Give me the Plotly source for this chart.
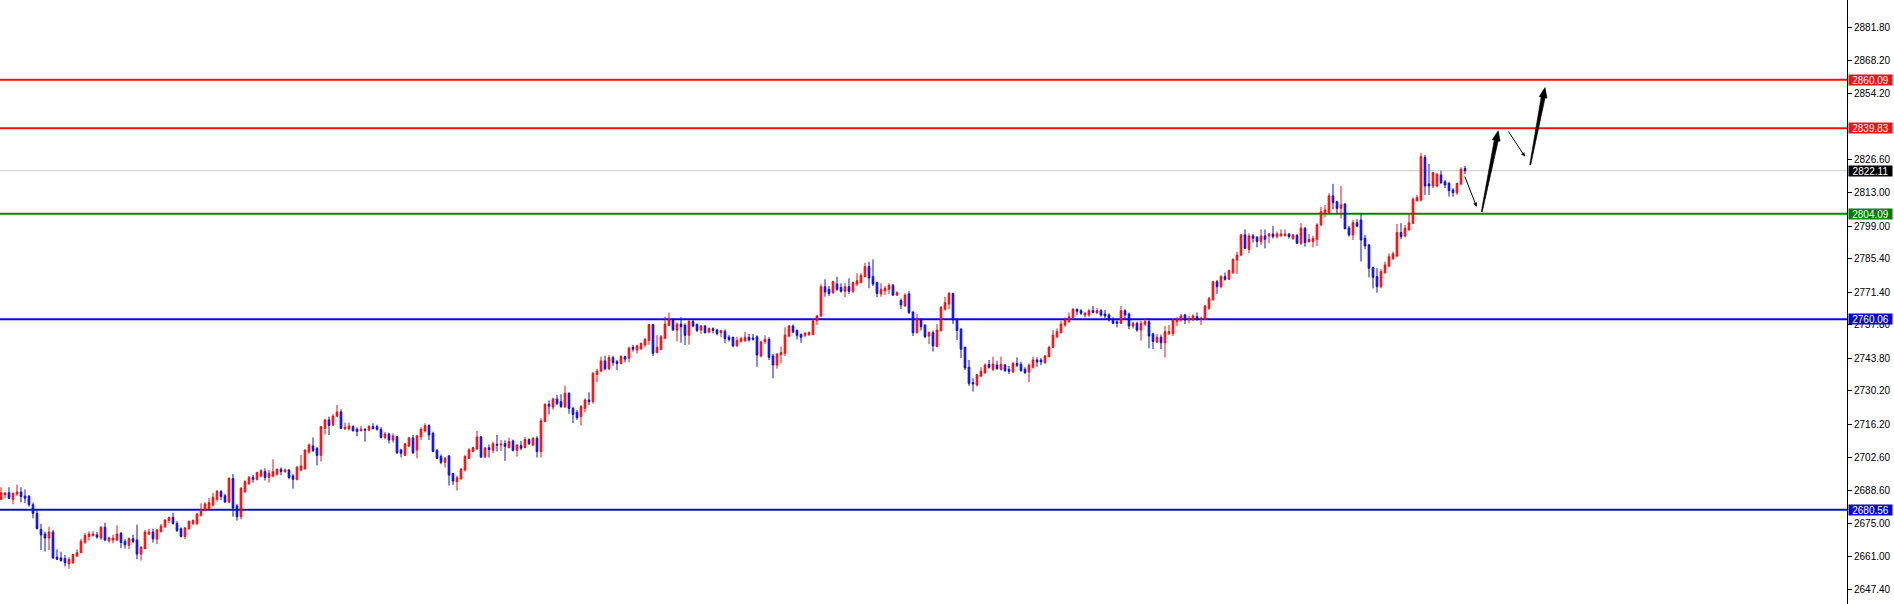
import plotly.graph_objects as go

# ---------------- data ----------------
opens = [2685.0,2686.8,2687.7,2685.0,2687.2,2688.0,2686.3,2686.3,2682.7,2679.1,2672.4,2670.5,2668.8,2671.3,2660.8,2660.5,2660.2,2658.0,2658.5,2661.3,
2662.7,2667.1,2669.4,2669.9,2670.1,2668.8,2673.3,2667.7,2668.0,2668.0,2670.8,2667.4,2665.8,2668.5,2668.0,2662.1,2664.4,2670.5,2671.3,2668.3,
2671.6,2673.5,2676.1,2677.4,2674.9,2672.7,2669.4,2672.7,2674.9,2674.9,2678.3,2680.5,2681.1,2682.6,2685.0,2688.2,2686.4,2683.8,2693.6,2682.2,
2677.7,2688.2,2691.6,2694.1,2693.3,2694.7,2696.5,2694.1,2694.7,2695.5,2697.5,2696.5,2697.2,2694.7,2693.3,2697.2,2697.8,2704.7,2707.2,2706.2,
2703.3,2714.6,2718.1,2716.0,2719.7,2721.4,2714.4,2714.4,2715.3,2714.2,2713.6,2714.2,2713.9,2715.3,2715.3,2714.2,2710.8,2712.2,2709.7,2711.1,
2705.5,2703.3,2707.2,2710.6,2705.5,2711.1,2713.5,2715.7,2712.5,2705.3,2702.8,2700.4,2703.1,2695.7,2692.3,2693.5,2697.2,2702.1,2704.9,2706.0,
2711.0,2702.6,2706.5,2705.4,2707.9,2707.6,2708.2,2706.5,2709.3,2705.4,2707.4,2706.5,2709.9,2707.6,2710.4,2704.9,2717.4,2724.6,2723.5,2726.8,
2725.7,2723.5,2729.2,2722.9,2721.3,2719.5,2722.9,2726.4,2725.7,2737.1,2738.5,2742.7,2739.4,2744.1,2742.4,2741.6,2744.5,2743.8,2748.4,2747.3,
2747.8,2749.4,2751.2,2757.9,2746.2,2747.6,2752.2,2757.6,2759.8,2755.6,2758.1,2757.6,2753.4,2759.2,2757.9,2755.6,2757.3,2754.8,2756.2,2755.6,
2754.5,2755.1,2752.6,2752.6,2749.0,2750.9,2751.2,2752.6,2752.3,2752.8,2744.8,2750.8,2751.7,2744.8,2741.0,2745.3,2745.9,2753.1,2757.3,2755.4,
2753.7,2753.4,2753.7,2753.7,2759.5,2761.5,2773.7,2772.6,2771.2,2774.8,2773.4,2771.8,2773.7,2771.8,2774.8,2775.4,2777.9,2782.1,2777.9,2775.4,
2770.7,2772.0,2772.6,2774.3,2770.2,2767.9,2765.6,2770.7,2763.1,2754.5,2759.8,2757.6,2753.1,2754.5,2748.7,2755.4,2764.3,2766.5,2770.9,2760.1,
2755.9,2748.4,2740.1,2733.7,2732.7,2736.4,2737.8,2741.2,2739.2,2741.0,2739.2,2741.0,2739.2,2738.1,2741.7,2741.3,2739.2,2738.1,2740.1,2743.1,
2743.1,2742.0,2744.5,2748.4,2752.8,2754.5,2757.7,2759.1,2760.9,2764.3,2763.7,2761.8,2761.9,2763.7,2762.9,2763.7,2762.3,2761.9,2760.1,2759.0,
2758.4,2763.7,2762.3,2757.3,2758.4,2755.6,2758.1,2759.1,2754.0,2750.6,2752.6,2750.3,2754.2,2754.2,2759.1,2759.8,2761.9,2759.8,2759.8,2761.2,
2760.1,2760.1,2764.7,2768.2,2775.8,2773.7,2777.9,2776.8,2779.6,2784.8,2786.9,2795.3,2789.3,2794.9,2794.3,2792.5,2794.9,2794.9,2795.7,2794.6,
2795.1,2795.1,2795.7,2793.8,2795.1,2791.8,2798.1,2792.5,2792.5,2793.5,2799.5,2804.6,2804.6,2811.6,2809.1,2806.4,2808.2,2798.2,2795.3,2800.4,
2801.5,2793.9,2791.1,2781.6,2777.9,2773.7,2779.6,2782.3,2785.5,2786.5,2796.3,2794.9,2797.4,2800.2,2809.6,2809.9,2827.7,2816.6,2815.7,2815.7,
2820.3,2817.5,2816.8,2814.1,2812.9,2816.6,2823.0]
highs = [2690.0,2688.0,2690.0,2687.7,2691.1,2690.0,2689.1,2686.6,2683.6,2680.5,2674.7,2671.5,2673.5,2672.2,2664.1,2663.1,2661.7,2660.8,2662.1,2664.1,
2668.5,2671.0,2671.6,2671.6,2671.3,2673.8,2675.2,2669.4,2670.2,2674.1,2671.3,2668.3,2669.1,2670.2,2674.4,2665.5,2672.2,2672.7,2672.7,2672.4,
2674.7,2676.6,2677.7,2679.4,2675.8,2673.3,2673.5,2676.1,2676.6,2679.4,2683.3,2683.8,2685.5,2687.7,2688.9,2688.9,2687.2,2694.1,2695.5,2683.0,
2690.0,2693.0,2694.7,2695.1,2696.5,2697.5,2697.9,2697.2,2701.7,2697.8,2698.3,2697.8,2697.5,2695.5,2698.9,2703.5,2705.8,2708.3,2710.8,2706.9,
2715.6,2718.6,2719.5,2720.6,2724.3,2722.5,2717.0,2717.0,2715.8,2715.0,2715.6,2714.6,2716.0,2716.7,2716.1,2715.0,2713.1,2712.8,2712.5,2711.4,
2706.1,2708.6,2711.1,2711.8,2711.8,2715.0,2716.7,2716.3,2713.2,2706.0,2703.7,2702.6,2703.2,2695.8,2694.8,2697.9,2703.5,2706.3,2706.9,2713.5,
2711.3,2706.9,2707.9,2709.0,2711.8,2709.7,2709.6,2710.7,2709.9,2707.9,2709.3,2711.0,2710.4,2711.0,2711.3,2718.8,2725.0,2726.3,2727.4,2728.5,
2728.8,2732.4,2729.6,2723.6,2722.2,2724.3,2727.1,2729.6,2738.2,2739.4,2744.5,2744.9,2745.2,2744.9,2743.1,2745.2,2744.9,2748.7,2749.4,2749.5,
2750.3,2752.3,2758.1,2758.1,2753.5,2753.5,2761.2,2762.9,2760.5,2758.7,2760.9,2758.4,2759.8,2759.8,2758.4,2757.7,2757.6,2756.7,2756.7,2756.2,
2755.6,2755.9,2753.5,2752.8,2752.8,2752.8,2754.9,2754.0,2754.0,2753.4,2751.2,2753.4,2752.6,2745.6,2745.9,2748.7,2756.7,2757.7,2757.9,2755.9,
2754.2,2754.9,2755.1,2760.5,2761.9,2774.8,2776.8,2774.0,2776.2,2777.9,2775.1,2775.1,2777.2,2775.8,2779.3,2779.3,2783.7,2784.1,2785.1,2775.8,
2775.1,2774.0,2775.1,2774.8,2771.8,2768.8,2770.9,2771.8,2763.4,2762.3,2760.5,2758.1,2755.1,2755.4,2758.1,2765.6,2769.5,2771.5,2771.2,2760.5,
2756.5,2748.7,2743.1,2735.5,2737.3,2740.1,2741.7,2743.1,2744.5,2742.8,2744.5,2741.4,2740.6,2742.3,2744.2,2742.4,2740.1,2741.7,2744.5,2744.2,
2743.9,2745.2,2749.0,2755.6,2756.3,2759.5,2760.9,2762.9,2764.7,2764.5,2764.3,2763.1,2764.3,2765.6,2764.8,2764.3,2764.0,2762.6,2760.9,2759.8,
2765.6,2764.3,2762.9,2759.1,2759.1,2759.5,2760.5,2760.5,2754.5,2754.0,2753.7,2757.3,2757.7,2760.5,2760.9,2762.3,2762.3,2761.5,2762.2,2762.9,
2761.2,2766.1,2769.5,2776.2,2776.5,2778.6,2779.6,2780.9,2785.5,2788.3,2795.7,2797.6,2796.0,2795.7,2794.9,2797.6,2797.6,2796.0,2799.0,2796.7,
2797.6,2797.6,2796.0,2795.7,2795.7,2800.2,2798.5,2795.7,2794.9,2800.2,2807.1,2807.8,2812.7,2816.6,2809.6,2815.7,2808.5,2799.0,2801.5,2801.8,
2804.3,2795.3,2791.5,2782.1,2781.4,2781.0,2784.2,2787.6,2788.3,2799.9,2800.2,2799.5,2804.0,2811.0,2812.0,2829.6,2828.7,2824.9,2821.7,2821.0,
2822.1,2818.2,2817.4,2814.8,2817.1,2823.5,2824.1]
lows = [2684.7,2685.4,2685.0,2682.9,2686.3,2683.6,2683.3,2681.9,2677.0,2672.4,2663.8,2663.1,2663.8,2660.2,2659.6,2658.9,2656.9,2656.0,2658.0,2660.8,
2662.4,2666.3,2667.7,2669.4,2668.5,2668.0,2667.4,2666.9,2666.6,2667.4,2664.6,2664.4,2664.1,2666.6,2659.9,2659.4,2664.1,2669.9,2666.9,2666.3,
2671.0,2673.0,2674.9,2674.4,2671.3,2669.1,2668.3,2672.2,2674.1,2674.1,2677.7,2679.9,2680.5,2681.9,2684.0,2684.7,2683.6,2683.3,2677.7,2676.1,
2676.6,2687.5,2690.9,2691.9,2692.8,2694.1,2692.8,2691.9,2694.1,2694.7,2695.0,2696.1,2693.3,2689.4,2692.8,2696.6,2697.2,2703.9,2704.7,2699.1,
2700.7,2712.2,2711.8,2715.6,2719.2,2714.2,2713.9,2713.6,2713.2,2711.4,2713.3,2709.0,2713.3,2714.2,2713.6,2710.3,2710.0,2708.3,2708.6,2703.9,
2702.5,2703.0,2706.7,2703.9,2702.1,2709.7,2712.9,2709.7,2704.6,2701.8,2699.6,2698.2,2690.7,2691.0,2688.6,2693.2,2696.5,2701.8,2704.6,2705.6,
2702.1,2702.4,2702.4,2704.2,2704.9,2705.1,2701.0,2706.3,2704.9,2702.8,2705.4,2706.3,2707.6,2707.1,2702.4,2702.4,2717.1,2720.4,2722.4,2724.3,
2723.2,2723.2,2720.7,2716.8,2718.1,2715.7,2721.3,2724.3,2724.9,2733.8,2738.0,2738.8,2738.9,2740.7,2738.9,2741.3,2742.1,2742.1,2746.6,2745.9,
2747.3,2748.4,2749.5,2744.8,2745.9,2747.3,2751.7,2757.3,2755.4,2750.9,2750.3,2749.4,2749.5,2756.7,2754.8,2754.0,2754.2,2754.2,2754.2,2753.4,
2752.6,2750.1,2750.8,2748.4,2748.7,2750.3,2750.6,2750.8,2751.2,2740.3,2744.2,2749.8,2743.1,2735.5,2739.5,2741.7,2744.8,2752.6,2754.2,2751.7,
2750.3,2752.6,2753.1,2753.4,2757.7,2760.9,2769.5,2769.8,2770.7,2772.0,2771.2,2769.3,2770.7,2770.9,2774.0,2775.1,2777.6,2773.0,2774.0,2769.3,
2769.5,2770.2,2770.7,2769.8,2769.8,2764.3,2765.4,2762.3,2753.1,2754.2,2755.4,2752.2,2749.8,2746.6,2748.4,2754.9,2763.7,2764.3,2758.1,2751.5,
2743.9,2738.9,2732.3,2729.9,2732.0,2735.9,2737.3,2739.5,2738.4,2738.9,2738.7,2738.1,2737.3,2737.8,2740.1,2738.1,2737.3,2733.9,2739.5,2740.3,
2740.9,2741.4,2744.2,2748.0,2752.2,2754.2,2757.0,2758.7,2760.5,2761.9,2761.9,2760.9,2761.2,2762.6,2762.3,2761.2,2760.6,2759.1,2758.1,2756.7,
2758.1,2759.8,2755.9,2756.3,2754.9,2751.2,2757.3,2748.0,2747.6,2750.1,2747.6,2744.2,2753.5,2753.1,2757.3,2759.1,2758.1,2758.4,2759.5,2759.5,
2757.7,2759.8,2764.0,2767.9,2770.7,2773.0,2776.2,2776.5,2779.0,2779.0,2786.5,2789.3,2787.6,2792.1,2790.1,2791.1,2789.7,2791.8,2793.8,2793.8,
2794.3,2794.6,2793.8,2793.2,2791.5,2791.1,2790.4,2792.1,2790.1,2790.7,2799.0,2802.7,2804.3,2806.0,2804.0,2802.2,2797.6,2794.6,2793.2,2798.5,
2784.2,2789.3,2777.6,2773.0,2771.2,2773.0,2779.0,2781.8,2784.8,2786.0,2793.5,2794.3,2797.1,2799.9,2809.2,2809.2,2812.0,2812.0,2814.8,2815.2,
2816.6,2814.8,2811.3,2811.3,2812.0,2816.0,2820.7]
closes = [2687.7,2687.5,2685.4,2687.5,2688.0,2686.1,2685.4,2682.7,2679.1,2672.7,2670.1,2668.8,2671.3,2660.5,2659.9,2659.4,2658.5,2659.9,2661.9,2662.7,
2667.4,2669.9,2670.5,2670.5,2669.2,2673.3,2668.0,2668.8,2668.8,2670.5,2666.9,2666.0,2668.5,2667.4,2662.1,2664.9,2671.3,2671.3,2668.5,2672.2,
2673.8,2676.3,2677.4,2674.9,2671.9,2669.4,2673.0,2675.8,2676.1,2678.8,2680.8,2683.0,2683.6,2685.8,2688.2,2686.1,2683.8,2693.7,2681.3,2677.7,
2689.6,2692.3,2694.1,2693.3,2696.1,2696.9,2694.1,2695.8,2696.5,2697.5,2696.5,2697.2,2694.1,2693.3,2698.3,2698.9,2705.5,2707.6,2705.3,2703.3,
2715.3,2718.1,2715.8,2719.7,2721.4,2714.6,2715.0,2715.6,2713.6,2713.3,2714.2,2713.9,2715.3,2714.4,2714.2,2710.8,2712.2,2709.7,2711.4,2704.4,
2704.2,2708.1,2710.6,2704.4,2711.4,2714.2,2715.7,2711.8,2704.9,2702.1,2700.4,2702.1,2695.1,2692.6,2694.0,2697.6,2702.8,2705.6,2706.5,2711.0,
2702.6,2706.3,2705.7,2708.2,2707.6,2707.9,2707.1,2709.0,2705.4,2707.6,2706.3,2709.9,2708.2,2710.4,2704.9,2717.7,2724.6,2723.8,2726.8,2725.0,
2723.6,2729.2,2722.9,2720.4,2719.0,2723.6,2726.4,2725.7,2737.5,2738.5,2742.7,2739.4,2744.1,2742.1,2741.6,2744.5,2743.5,2748.0,2747.6,2749.0,
2750.1,2751.7,2757.9,2745.9,2748.4,2752.8,2758.1,2759.8,2755.6,2758.1,2757.0,2753.4,2759.2,2757.3,2755.4,2757.3,2754.5,2756.2,2755.4,2754.2,
2755.4,2752.0,2751.7,2749.0,2751.2,2752.0,2752.6,2751.5,2751.7,2745.2,2750.6,2751.7,2744.2,2741.0,2745.6,2746.2,2753.5,2757.3,2754.8,2753.4,
2752.6,2754.2,2754.5,2759.5,2761.5,2773.7,2771.5,2770.9,2775.8,2772.6,2771.8,2773.7,2771.8,2775.4,2776.2,2778.4,2782.1,2777.3,2774.8,2770.9,
2772.6,2773.0,2774.3,2770.2,2771.2,2766.1,2770.2,2762.9,2754.5,2760.1,2757.0,2752.8,2754.5,2749.0,2755.6,2765.1,2767.0,2770.9,2759.8,2755.4,
2747.6,2739.8,2733.4,2733.1,2736.9,2738.4,2741.0,2740.1,2741.4,2739.5,2741.3,2738.7,2738.4,2741.7,2740.9,2738.7,2737.8,2740.9,2743.1,2742.3,
2742.3,2744.8,2748.4,2753.5,2754.9,2758.1,2759.8,2761.2,2764.3,2763.4,2762.6,2762.6,2763.7,2762.9,2763.7,2761.9,2761.5,2759.8,2758.4,2758.4,
2763.7,2761.9,2757.3,2758.4,2755.6,2758.4,2759.1,2753.1,2750.8,2752.6,2750.3,2754.9,2754.9,2759.8,2759.8,2761.5,2759.8,2760.4,2761.5,2760.1,
2760.5,2765.6,2768.7,2775.8,2773.7,2777.9,2776.8,2780.4,2785.1,2786.9,2795.3,2789.7,2794.9,2793.9,2792.6,2794.9,2793.5,2795.7,2794.6,2795.7,
2795.7,2795.7,2794.6,2795.3,2791.8,2798.1,2792.1,2793.5,2793.9,2799.5,2805.0,2805.7,2811.6,2808.8,2806.4,2807.8,2797.9,2795.3,2800.4,2799.0,
2793.2,2790.7,2781.4,2777.6,2773.7,2780.0,2782.8,2786.2,2787.4,2796.3,2794.6,2798.1,2800.4,2810.2,2811.0,2828.0,2815.7,2815.7,2821.3,2820.7,
2817.1,2816.1,2813.8,2812.9,2816.8,2822.7,2822.11]

level_prices = [2860.09, 2839.83, 2822.11, 2804.09, 2760.06, 2680.56]
level_colors = ["#EE1111", "#EE1111", "#C8C8C8", "#008000", "#0A0ACD", "#0A0ACD"]
label_bg = ["#EE1111", "#EE1111", "#000000", "#008000", "#0A0ACD", "#0A0ACD"]
level_widths = [2, 2, 1, 2, 2, 2]

tick_vals = [2881.80, 2868.20, 2854.20, 2826.60, 2813.00, 2799.00, 2785.40, 2771.40,
             2757.80, 2743.80, 2730.20, 2716.20, 2702.60, 2688.60, 2675.00, 2661.00, 2647.40]

# projected path (bar index, price) drawn as arrows
proj_x = [365.8, 368.9, 370.2, 374.3, 376.6, 381.0, 382.3, 386.0]
proj_y = [2820.3, 2807.1, 2805.0, 2838.8, 2839.1, 2828.0, 2824.5, 2856.8]
proj_kind = ["thin", "thick", "thin", "thick"]

# ---------------- figure ----------------
W, H = 1894, 604
ML, MR, MT, MB = 0, 47, 0, 0
PW, PH = W - ML - MR, H - MT - MB
XR = [-0.25, -0.25 + PW / 4.0]
YR = [2641.27, 2893.35]
SX = PW / (XR[1] - XR[0])
SY = PH / (YR[1] - YR[0])

idx = list(range(len(closes)))

fig = go.Figure()

shapes = []
for p, c, w in zip(level_prices, level_colors, level_widths):
    shapes.append(dict(type="line", xref="paper", x0=0, x1=1, yref="y", y0=p, y1=p,
                       line=dict(color=c, width=w), layer="below"))

fig.add_trace(go.Candlestick(
    x=idx, open=opens, high=highs, low=lows, close=closes,
    increasing=dict(line=dict(color="#EE1111", width=1), fillcolor="#EE1111"),
    decreasing=dict(line=dict(color="#1010D8", width=1), fillcolor="#1010D8"),
    whiskerwidth=0, hoverinfo="skip", showlegend=False))


def to_px(x, y):
    return (x - XR[0]) * SX, (YR[1] - y) * SY


def to_data(px, py):
    return px / SX + XR[0], YR[1] - py / SY


def tapered_arrow(x0, y0, x1, y1, w0=0.5, w1=2.0, hl=10.0, hw=4.0):
    bx, by = to_px(x0, y0)
    tx, ty = to_px(x1, y1)
    L = ((tx - bx) ** 2 + (ty - by) ** 2) ** 0.5
    dx, dy = (tx - bx) / L, (ty - by) / L
    nx, ny = -dy, dx
    hx, hy = tx - dx * hl, ty - dy * hl
    pts = [(bx + nx * w0, by + ny * w0), (hx + nx * w1, hy + ny * w1),
           (hx + nx * hw, hy + ny * hw), (tx, ty),
           (hx - nx * hw, hy - ny * hw), (hx - nx * w1, hy - ny * w1),
           (bx - nx * w0, by - ny * w0)]
    d = []
    for i, (px, py) in enumerate(pts):
        X, Y = to_data(px, py)
        d.append(("M" if i == 0 else "L") + f"{X:.4f},{Y:.4f}")
    return " ".join(d) + " Z"


annotations = []
for i, kind in enumerate(proj_kind):
    xa, ya, xb, yb = proj_x[2 * i], proj_y[2 * i], proj_x[2 * i + 1], proj_y[2 * i + 1]
    if kind == "thick":
        shapes.append(dict(type="path", xref="x", yref="y", path=tapered_arrow(xa, ya, xb, yb),
                           fillcolor="#000000", line=dict(color="#000000", width=0.6)))
    else:
        annotations.append(dict(x=xb, y=yb, ax=xa, ay=ya, xref="x", yref="y", axref="x", ayref="y",
                                text="", showarrow=True, arrowhead=2, arrowsize=0.8, arrowwidth=1,
                                arrowcolor="#000000", standoff=0))

for p, bg in zip(level_prices, label_bg):
    annotations.append(dict(x=1, xref="paper", xanchor="left", xshift=1, y=p, yref="y", yanchor="middle",
                            text=f"{p:.2f}", showarrow=False, bgcolor=bg, borderpad=0,
                            width=43, height=10, align="center",
                            font=dict(family="Liberation Sans, Arial, sans-serif", size=10, color="#FFFFFF")))

fig.update_layout(
    width=W, height=H, autosize=False,
    margin=dict(l=ML, r=MR, t=MT, b=MB, pad=0),
    paper_bgcolor="#FFFFFF", plot_bgcolor="#FFFFFF",
    showlegend=False, boxgap=0.4, hovermode=False,
    shapes=shapes, annotations=annotations,
    xaxis=dict(range=XR, visible=False, rangeslider=dict(visible=False), fixedrange=True),
    yaxis=dict(range=YR, side="right", tickvals=tick_vals, ticktext=[f"{v:.2f}" for v in tick_vals],
               ticks="outside", ticklen=4, tickwidth=1, tickcolor="#000000",
               showline=True, linecolor="#000000", linewidth=1, showgrid=False, zeroline=False,
               fixedrange=True,
               tickfont=dict(family="Liberation Sans, Arial, sans-serif", size=10, color="#000000")),
)

fig.write_html("out.html", config={"displayModeBar": False},
               post_script="document.body.style.margin='0';document.body.style.overflow='hidden';")
